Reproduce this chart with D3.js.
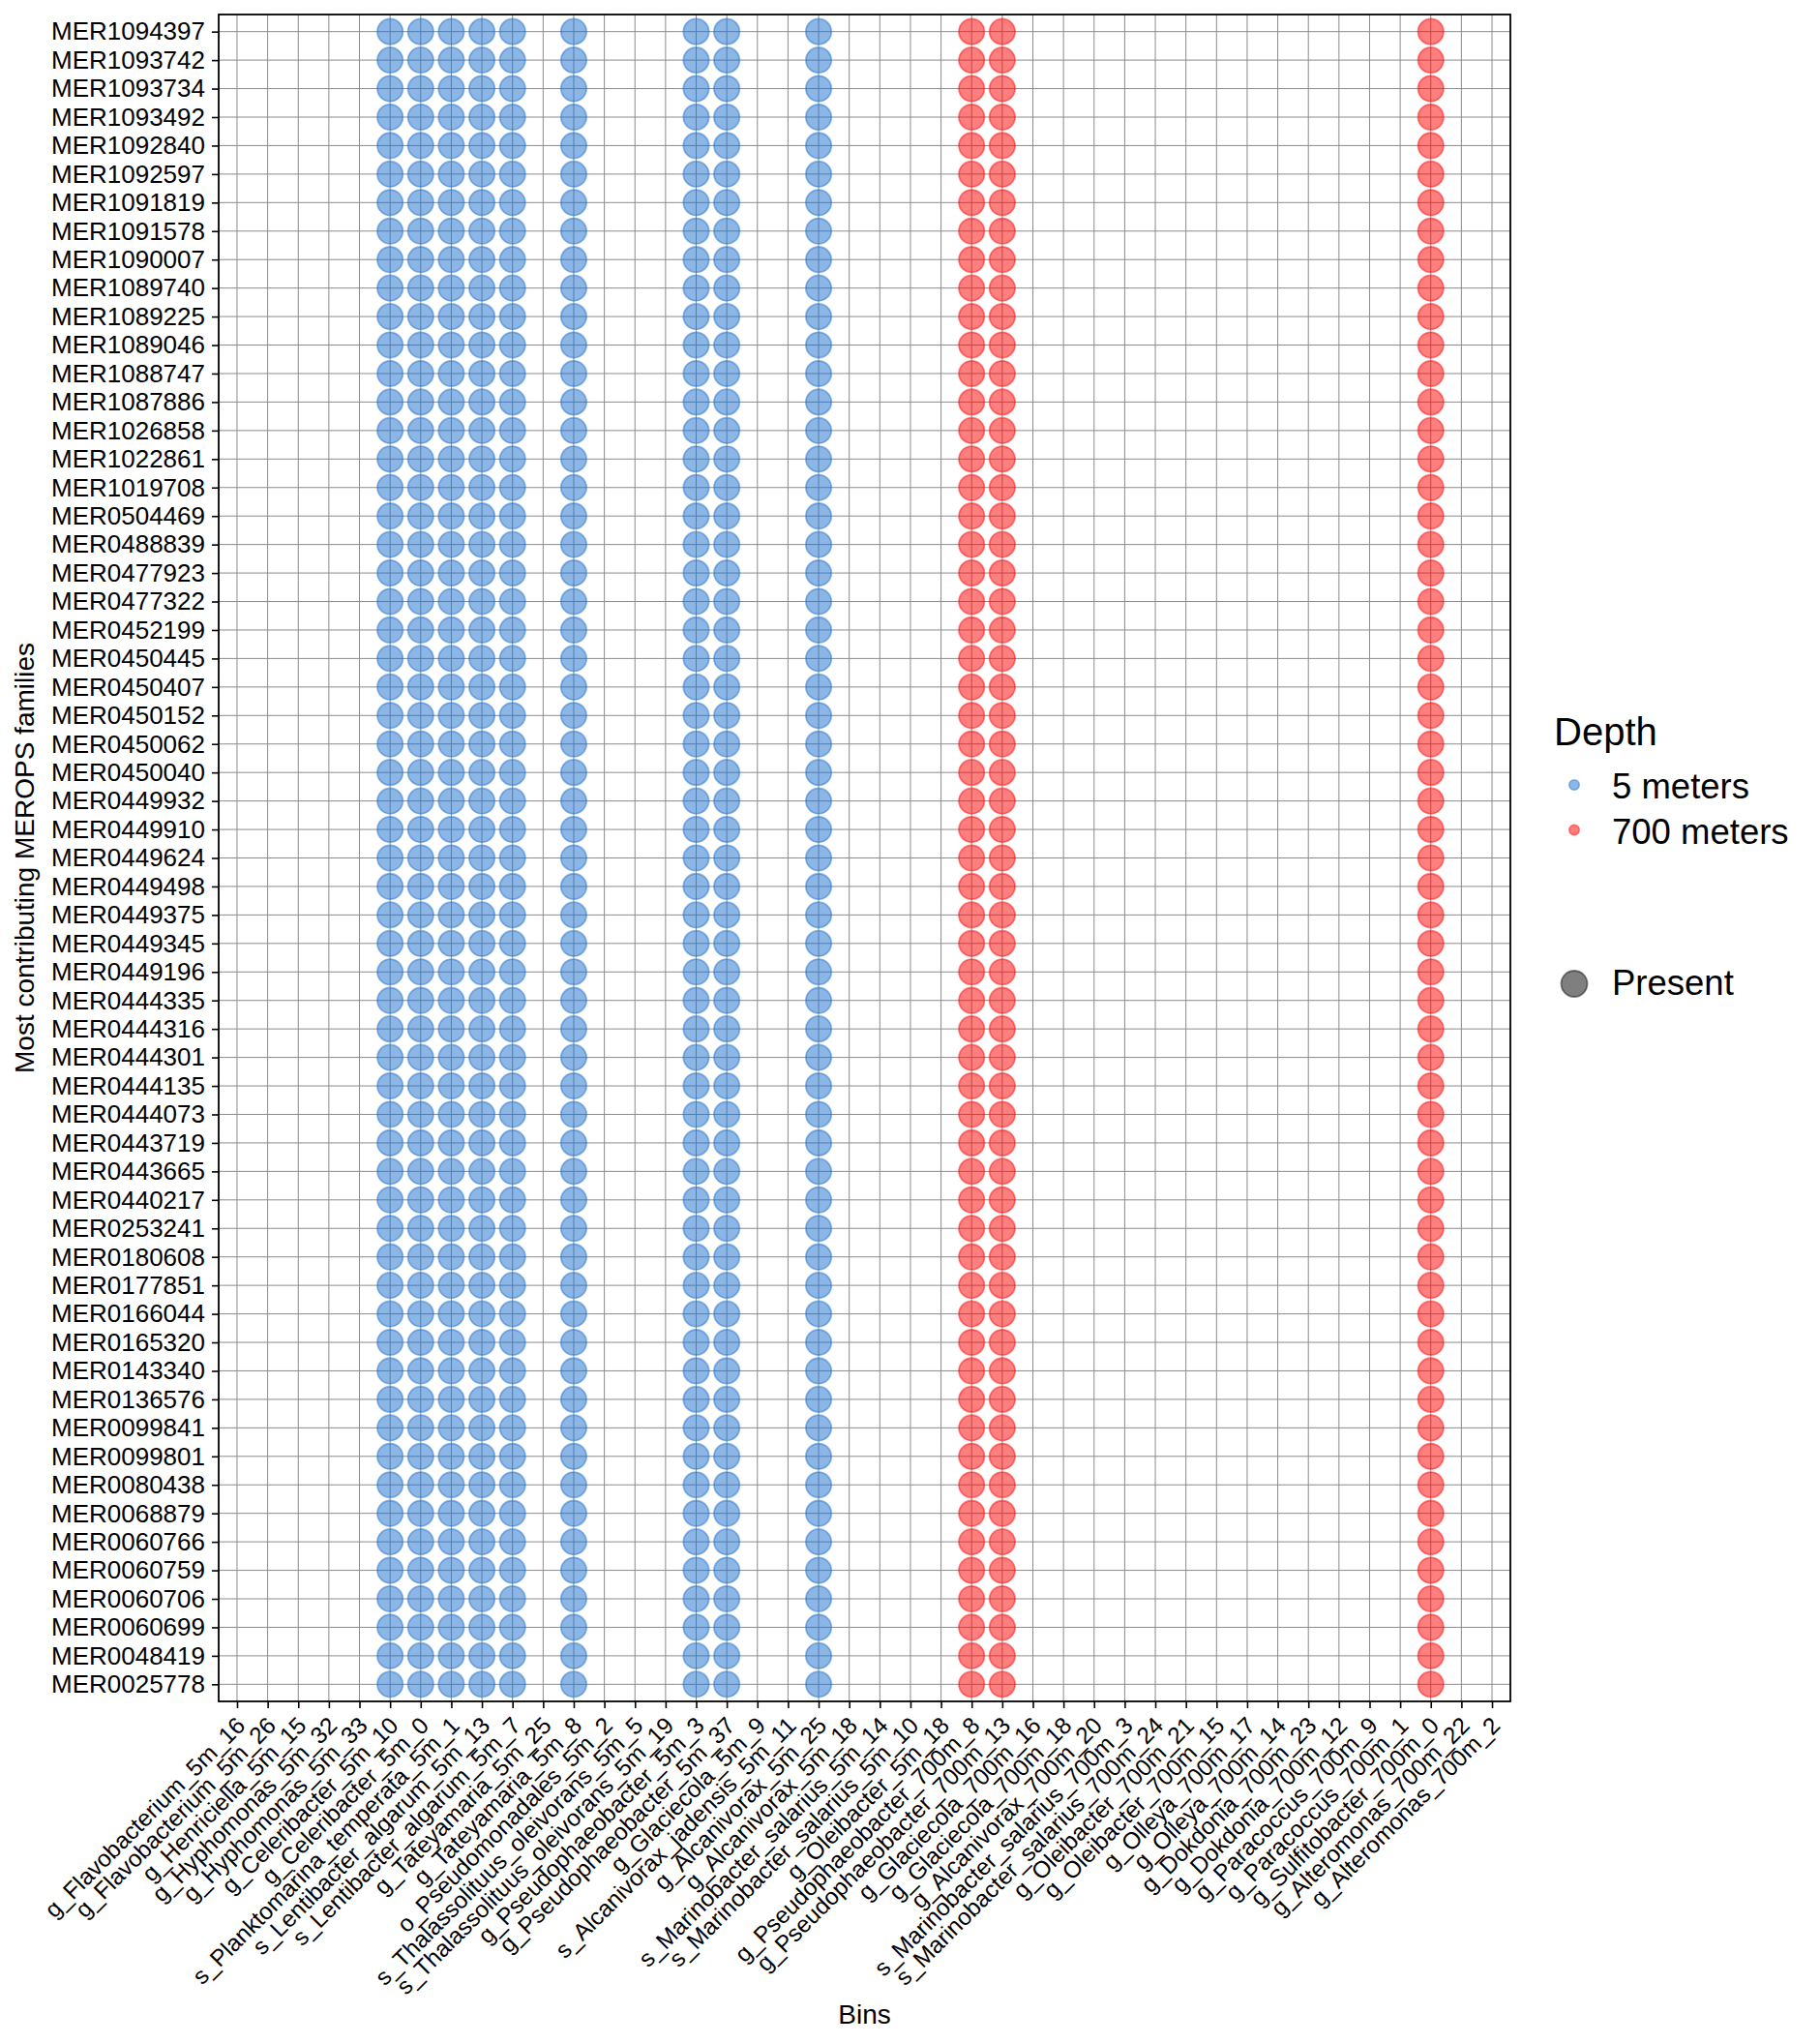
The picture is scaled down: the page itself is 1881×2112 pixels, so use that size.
<!DOCTYPE html>
<html>
<head>
<meta charset="utf-8">
<script src="https://cdn.jsdelivr.net/npm/d3@7"></script>
<style>
  body { margin: 0; background: #fff; }
  svg text { font-family: "Liberation Sans", Arial, Helvetica, sans-serif; fill: #000; }
</style>
</head>
<body>
<script>

// MEROPS families, top to bottom as shown
var families = [
  'MER1094397','MER1093742','MER1093734','MER1093492','MER1092840','MER1092597',
  'MER1091819','MER1091578','MER1090007','MER1089740','MER1089225','MER1089046',
  'MER1088747','MER1087886','MER1026858','MER1022861','MER1019708','MER0504469',
  'MER0488839','MER0477923','MER0477322','MER0452199','MER0450445','MER0450407',
  'MER0450152','MER0450062','MER0450040','MER0449932','MER0449910','MER0449624',
  'MER0449498','MER0449375','MER0449345','MER0449196','MER0444335','MER0444316',
  'MER0444301','MER0444135','MER0444073','MER0443719','MER0443665','MER0440217',
  'MER0253241','MER0180608','MER0177851','MER0166044','MER0165320','MER0143340',
  'MER0136576','MER0099841','MER0099801','MER0080438','MER0068879','MER0060766',
  'MER0060759','MER0060706','MER0060699','MER0048419','MER0025778'
];

var bins = [
  'g_Flavobacterium_5m_16','g_Flavobacterium_5m_26','g_Henriciella_5m_15',
  'g_Hyphomonas_5m_32','g_Hyphomonas_5m_33','g_Celeribacter_5m_10',
  'g_Celeribacter_5m_0','s_Planktomarina_temperata_5m_1','s_Lentibacter_algarum_5m_13',
  's_Lentibacter_algarum_5m_7','g_Tateyamaria_5m_25','g_Tateyamaria_5m_8',
  'o_Pseudomonadales_5m_2','s_Thalassolituus_oleivorans_5m_5','s_Thalassolituus_oleivorans_5m_19',
  'g_Pseudophaeobacter_5m_3','g_Pseudophaeobacter_5m_37','g_Glaciecola_5m_9',
  's_Alcanivorax_jadensis_5m_11','g_Alcanivorax_5m_25','g_Alcanivorax_5m_18',
  's_Marinobacter_salarius_5m_14','s_Marinobacter_salarius_5m_10','g_Oleibacter_5m_18',
  'g_Pseudophaeobacter_700m_8','g_Pseudophaeobacter_700m_13','g_Glaciecola_700m_16',
  'g_Glaciecola_700m_18','g_Alcanivorax_700m_20','s_Marinobacter_salarius_700m_3',
  's_Marinobacter_salarius_700m_24','g_Oleibacter_700m_21','g_Oleibacter_700m_15',
  'g_Olleya_700m_17','g_Olleya_700m_14','g_Dokdonia_700m_23','g_Dokdonia_700m_12',
  'g_Paracoccus_700m_9','g_Paracoccus_700m_1','g_Sulfitobacter_700m_0',
  'g_Alteromonas_700m_22','g_Alteromonas_700m_2'
];

// bins where every family is present
var present5m = [
  'g_Celeribacter_5m_10','g_Celeribacter_5m_0','s_Planktomarina_temperata_5m_1',
  's_Lentibacter_algarum_5m_13','s_Lentibacter_algarum_5m_7','g_Tateyamaria_5m_8',
  'g_Pseudophaeobacter_5m_3','g_Pseudophaeobacter_5m_37','g_Alcanivorax_5m_25'
];
var present700m = [
  'g_Pseudophaeobacter_700m_8','g_Pseudophaeobacter_700m_13','g_Sulfitobacter_700m_0'
];

var depths = ['5 meters', '700 meters'];
var depthColors = ['#1a6dcb', '#ff0000'];

var width = 1881, height = 2112;
var panel = {left: 226, right: 1561, top: 15, bottom: 1758};

var svg = d3.select('body').append('svg')
    .attr('width', width)
    .attr('height', height);

var xScale = d3.scalePoint()
    .domain(bins)
    .range([panel.left, panel.right])
    .padding(0.6);

var yScale = d3.scalePoint()
    .domain(families)
    .range([panel.top, panel.bottom])
    .padding(0.6);

var color = d3.scaleOrdinal().domain(depths).range(depthColors);

// grid
svg.append('g').selectAll('line.vx')
    .data(bins).enter().append('line')
    .attr('x1', d => xScale(d)).attr('x2', d => xScale(d))
    .attr('y1', panel.top).attr('y2', panel.bottom)
    .attr('stroke', '#8c8c8c').attr('stroke-width', 1);
svg.append('g').selectAll('line.hy')
    .data(families).enter().append('line')
    .attr('y1', d => yScale(d)).attr('y2', d => yScale(d))
    .attr('x1', panel.left).attr('x2', panel.right)
    .attr('stroke', '#8c8c8c').attr('stroke-width', 1);

// points
var points = [];
families.forEach(function(f) {
    present5m.forEach(function(b) { points.push({family: f, bin: b, depth: '5 meters'}); });
    present700m.forEach(function(b) { points.push({family: f, bin: b, depth: '700 meters'}); });
});

svg.append('g').selectAll('circle')
    .data(points).enter().append('circle')
    .attr('cx', d => xScale(d.bin))
    .attr('cy', d => yScale(d.family))
    .attr('r', 13.2)
    .attr('fill', d => color(d.depth))
    .attr('fill-opacity', 0.5)
    .attr('stroke', d => color(d.depth))
    .attr('stroke-opacity', 0.45)
    .attr('stroke-width', 1.8);

// panel border
svg.append('rect')
    .attr('x', panel.left).attr('y', panel.top)
    .attr('width', panel.right - panel.left)
    .attr('height', panel.bottom - panel.top)
    .attr('fill', 'none')
    .attr('stroke', '#000')
    .attr('stroke-width', 1.8);

// axes
var yAxis = d3.axisLeft(yScale).tickSize(7).tickPadding(7);
var gy = svg.append('g')
    .attr('transform', 'translate(' + panel.left + ',0)')
    .call(yAxis);
gy.select('.domain').remove();
gy.selectAll('line').attr('stroke', '#000').attr('stroke-width', 1.6);
gy.selectAll('text').attr('font-size', 26).attr('fill', '#000');

var xAxis = d3.axisBottom(xScale).tickSize(7);
var gx = svg.append('g')
    .attr('transform', 'translate(0,' + panel.bottom + ')')
    .call(xAxis);
gx.select('.domain').remove();
gx.selectAll('line').attr('stroke', '#000').attr('stroke-width', 1.6);
// rotated labels: top-right corner sits just under the tick
gx.selectAll('text')
    .attr('font-size', 24.3)
    .attr('fill', '#000')
    .attr('x', 0)
    .attr('y', 0)
    .attr('dy', '0.72em')
    .attr('text-anchor', 'end')
    .attr('transform', 'translate(-3,14) rotate(-45)');

// axis titles
svg.append('text')
    .attr('x', (panel.left + panel.right) / 2)
    .attr('y', 2091)
    .attr('text-anchor', 'middle')
    .attr('font-size', 28)
    .text('Bins');

svg.append('text')
    .attr('transform', 'translate(35,' + (panel.top + panel.bottom) / 2 + ') rotate(-90)')
    .attr('text-anchor', 'middle')
    .attr('font-size', 28)
    .text('Most contributing MEROPS families');

// legend
var legend = svg.append('g');
legend.append('text')
    .attr('x', 1606).attr('y', 770)
    .attr('font-size', 40)
    .text('Depth');

legend.selectAll('circle.dep')
    .data(depths).enter().append('circle')
    .attr('cx', 1627)
    .attr('cy', (d, i) => 811 + i * 46.5)
    .attr('r', 5.3)
    .attr('fill', d => color(d))
    .attr('fill-opacity', 0.5)
    .attr('stroke', d => color(d))
    .attr('stroke-opacity', 0.45)
    .attr('stroke-width', 1.5);

legend.selectAll('text.dep')
    .data(depths).enter().append('text')
    .attr('x', 1666)
    .attr('y', (d, i) => 825 + i * 46.5)
    .attr('font-size', 36.5)
    .text(d => d);

legend.append('circle')
    .attr('cx', 1627).attr('cy', 1016.5)
    .attr('r', 13.5)
    .attr('fill', '#000').attr('fill-opacity', 0.5)
    .attr('stroke', '#000').attr('stroke-opacity', 0.45)
    .attr('stroke-width', 1.8);

legend.append('text')
    .attr('x', 1666).attr('y', 1028)
    .attr('font-size', 36.5)
    .text('Present');

</script>
</body>
</html>
